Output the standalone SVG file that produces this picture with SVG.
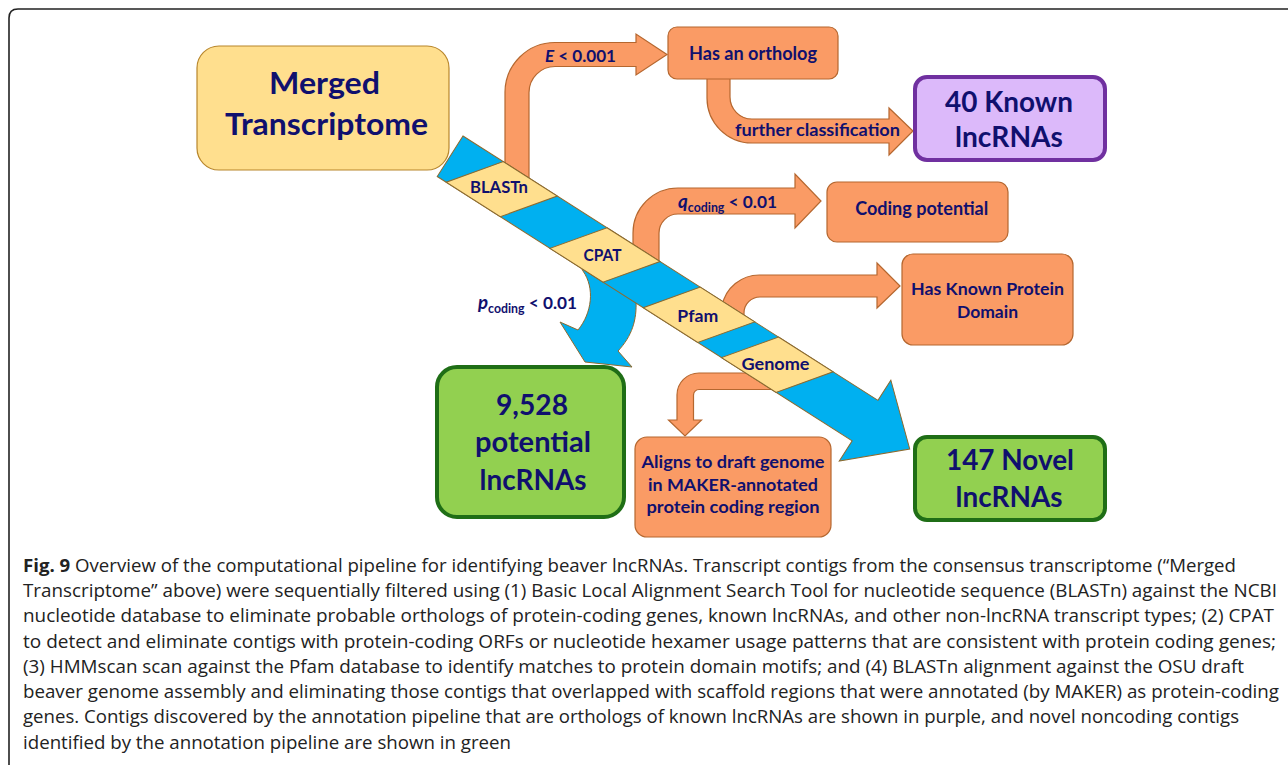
<svg xmlns="http://www.w3.org/2000/svg" width="1288" height="765" viewBox="0 0 1288 765">
<defs>
<style>
.lbl{font-family:Lato,"Open Sans","DejaVu Sans",sans-serif;font-weight:bold;fill:#10106E}
.big{font-size:29px}
.mid{font-size:18px}
.sm{font-size:17.5px}
.org{fill:#FA9B65;stroke:#B5672F;stroke-width:1.2}
.blue{fill:#00B0F0;stroke:#8C6A2F;stroke-width:1}
.yel{fill:#FFDF8E;stroke:#8C6A2F;stroke-width:1}
.green{fill:#92D050;stroke:#1F6E16;stroke-width:4}
.cap{font-family:"Open Sans","DejaVu Sans",sans-serif;font-size:17.5px;fill:#222}
</style>
</defs>
<rect width="1288" height="765" fill="#fff"/>
<path d="M9,765 L9,18 Q9,9 18,9 L1288,9" fill="none" stroke="#222" stroke-width="1.6"/>

<g id="connectors">
  <path class="org" d="M505,178 L505,92 A50,50 0 0 1 555,42.5 L636,42.5 L636,34 L667,54.5 L636,75 L636,66.5 L555,66.5 A26,26 0 0 0 529,92.5 L529,185 Z"/>
  <path class="org" d="M707,75 L707,98 A45,45 0 0 0 752,143 L889,143 L889,155 L913,131 L889,108 L889,119 L752,119 A22,22 0 0 1 730,97 L730,75 Z"/>
  <path class="org" d="M633,250 L633,233 A45,45 0 0 1 678,188 L795,188 L795,174 L821,201 L795,228 L795,214 L678,214 A19,19 0 0 0 659,233 L659,272 Z"/>
  <path class="org" d="M722,306 A38,38 0 0 1 760,275 L877,275 L877,263 L900,286 L877,308 L877,297 L760,297 A16,16 0 0 0 744,313 L744,320 Z"/>
  <path class="org" d="M750,373 L699,373 A22,22 0 0 0 677,395 L677,420 L668.5,420 L685,436 L701.5,420 L693.5,420 L693.5,395 A5.5,5.5 0 0 1 699,389.5 L777,389.5 Z"/>
  <path class="blue" d="M578,262 L583,271 C595,288 592,313 578,330 L560,322 L585,362 L632,367 L618,351 C632,336 637,320 636,300 L645,296 Z"/>
</g>

<g id="pipeline">
  <g transform="translate(463,136) rotate(32.5)">
    <polygon class="blue" points="0,0 492,0 492,-24 545,24 492,72 492,48 0,48"/>
    <polygon class="yel" points="47.7,0 111.8,0 74.8,48 10.7,48"/>
    <polygon class="yel" points="170.7,0 233.6,0 196.6,48 133.7,48"/>
    <polygon class="yel" points="281.3,0 345.9,0 308.9,48 244.3,48"/>
    <polygon class="yel" points="374.1,0 438.8,0 401.8,48 337.1,48"/>
  </g>
  <text class="lbl sm" x="499" y="193" text-anchor="middle" textLength="58" lengthAdjust="spacingAndGlyphs">BLASTn</text>
  <text class="lbl sm" x="602.5" y="261" text-anchor="middle" textLength="38" lengthAdjust="spacingAndGlyphs">CPAT</text>
  <text class="lbl sm" x="697.8" y="322" text-anchor="middle" textLength="41" lengthAdjust="spacingAndGlyphs">Pfam</text>
  <text class="lbl sm" x="775.5" y="369.5" text-anchor="middle" textLength="68" lengthAdjust="spacingAndGlyphs">Genome</text>
</g>

<g id="edge-labels">
  <text class="lbl sm" x="545" y="62" textLength="71" lengthAdjust="spacingAndGlyphs"><tspan font-style="italic">E</tspan> &lt; 0.001</text>
  <text class="lbl sm" x="735" y="136" textLength="165" lengthAdjust="spacingAndGlyphs">further classification</text>
  <text class="lbl sm" x="678" y="208" textLength="99" lengthAdjust="spacingAndGlyphs"><tspan font-style="italic" font-size="19">q</tspan><tspan font-size="12.5" dy="4">coding</tspan><tspan dy="-4"> &lt; 0.01</tspan></text>
  <text class="lbl sm" x="478" y="309" textLength="99" lengthAdjust="spacingAndGlyphs"><tspan font-style="italic" font-size="19">p</tspan><tspan font-size="12.5" dy="4">coding</tspan><tspan dy="-4"> &lt; 0.01</tspan></text>
</g>

<g id="merged">
  <rect x="197" y="46" width="252" height="124" rx="22" fill="#FFDF8E" stroke="#B8862B" stroke-width="1.2"/>
  <text class="lbl" font-size="31" x="324.5" y="94" text-anchor="middle" textLength="111" lengthAdjust="spacingAndGlyphs">Merged</text>
  <text class="lbl" font-size="31" x="326.5" y="135" text-anchor="middle" textLength="203" lengthAdjust="spacingAndGlyphs">Transcriptome</text>
</g>

<g id="ortholog">
  <rect class="org" x="668" y="27" width="170" height="52" rx="9"/>
  <text class="lbl mid" x="753" y="60" text-anchor="middle" textLength="128" lengthAdjust="spacingAndGlyphs">Has an ortholog</text>
</g>

<g id="known">
  <rect x="915" y="77" width="190" height="83" rx="12" fill="#DCB9FA" stroke="#7030A0" stroke-width="4"/>
  <text class="lbl big" x="1009" y="112" text-anchor="middle" textLength="128" lengthAdjust="spacingAndGlyphs">40 Known</text>
  <text class="lbl big" x="1009" y="147" text-anchor="middle" textLength="108" lengthAdjust="spacingAndGlyphs">lncRNAs</text>
</g>

<g id="coding">
  <rect class="org" x="827" y="182" width="181" height="60" rx="10"/>
  <text class="lbl mid" x="921.7" y="215" text-anchor="middle" textLength="133" lengthAdjust="spacingAndGlyphs">Coding potential</text>
</g>

<g id="protein">
  <rect class="org" x="902" y="254" width="171" height="91" rx="11"/>
  <text class="lbl sm" x="987.5" y="295" text-anchor="middle" textLength="153" lengthAdjust="spacingAndGlyphs">Has Known Protein</text>
  <text class="lbl sm" x="987.5" y="318" text-anchor="middle">Domain</text>
</g>

<g id="potential">
  <rect class="green" x="437" y="367" width="187" height="150" rx="20"/>
  <text class="lbl big" x="532" y="415" text-anchor="middle" textLength="72" lengthAdjust="spacingAndGlyphs">9,528</text>
  <text class="lbl big" x="533" y="452" text-anchor="middle" textLength="116" lengthAdjust="spacingAndGlyphs">potential</text>
  <text class="lbl big" x="533" y="490" text-anchor="middle" textLength="107" lengthAdjust="spacingAndGlyphs">lncRNAs</text>
</g>

<g id="aligns">
  <rect class="org" x="635" y="437" width="196" height="100" rx="12"/>
  <text class="lbl" font-size="17" x="733" y="468" text-anchor="middle" textLength="183" lengthAdjust="spacingAndGlyphs">Aligns to draft genome</text>
  <text class="lbl" font-size="17" x="733" y="490.5" text-anchor="middle" textLength="170" lengthAdjust="spacingAndGlyphs">in MAKER-annotated</text>
  <text class="lbl" font-size="17" x="733" y="513" text-anchor="middle" textLength="173" lengthAdjust="spacingAndGlyphs">protein coding region</text>
</g>

<g id="novel">
  <rect class="green" x="915" y="437" width="190" height="83" rx="12"/>
  <text class="lbl big" x="1010" y="470" text-anchor="middle" textLength="128" lengthAdjust="spacingAndGlyphs">147 Novel</text>
  <text class="lbl big" x="1009" y="507" text-anchor="middle" textLength="107" lengthAdjust="spacingAndGlyphs">lncRNAs</text>
</g>

<g id="caption">
  <text class="cap" x="23" y="572" textLength="1213" lengthAdjust="spacingAndGlyphs"><tspan font-weight="bold">Fig. 9</tspan> Overview of the computational pipeline for identifying beaver lncRNAs. Transcript contigs from the consensus transcriptome (“Merged</text>
  <text class="cap" x="23" y="597" textLength="1254" lengthAdjust="spacingAndGlyphs">Transcriptome” above) were sequentially filtered using (1) Basic Local Alignment Search Tool for nucleotide sequence (BLASTn) against the NCBI</text>
  <text class="cap" x="23" y="622" textLength="1251" lengthAdjust="spacingAndGlyphs">nucleotide database to eliminate probable orthologs of protein-coding genes, known lncRNAs, and other non-lncRNA transcript types; (2) CPAT</text>
  <text class="cap" x="23" y="648" textLength="1253" lengthAdjust="spacingAndGlyphs">to detect and eliminate contigs with protein-coding ORFs or nucleotide hexamer usage patterns that are consistent with protein coding genes;</text>
  <text class="cap" x="23" y="673" textLength="1221" lengthAdjust="spacingAndGlyphs">(3) HMMscan scan against the Pfam database to identify matches to protein domain motifs; and (4) BLASTn alignment against the OSU draft</text>
  <text class="cap" x="23" y="698" textLength="1256" lengthAdjust="spacingAndGlyphs">beaver genome assembly and eliminating those contigs that overlapped with scaffold regions that were annotated (by MAKER) as protein-coding</text>
  <text class="cap" x="23" y="723" textLength="1216" lengthAdjust="spacingAndGlyphs">genes. Contigs discovered by the annotation pipeline that are orthologs of known lncRNAs are shown in purple, and novel noncoding contigs</text>
  <text class="cap" x="23" y="749" textLength="488" lengthAdjust="spacingAndGlyphs">identified by the annotation pipeline are shown in green</text>
</g>
</svg>
